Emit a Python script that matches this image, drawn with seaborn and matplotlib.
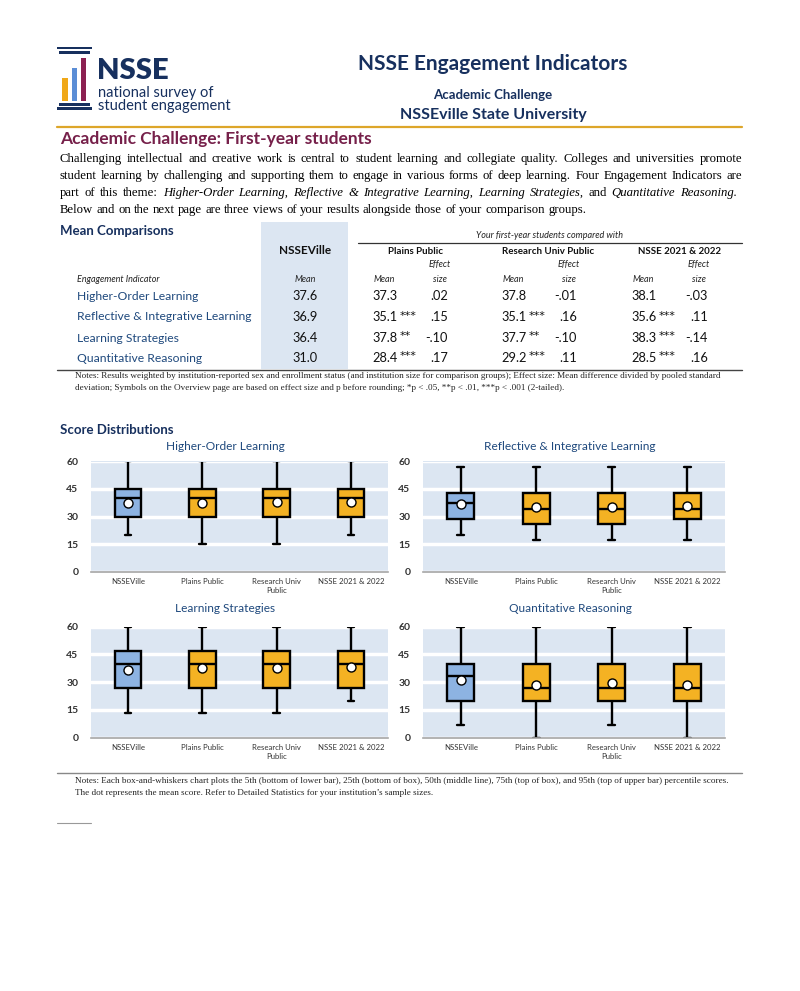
import numpy as np
import pandas as pd
import seaborn as sns
import matplotlib.pyplot as plt
from matplotlib.patches import Rectangle

# ---- data ----
groups = ["NSSEVille", "Plains Public", "Research Univ Public", "NSSE 2021 & 2022"]
group_ticks = ["NSSEVille", "Plains Public", "Research Univ\nPublic", "NSSE 2021 & 2022"]
indicators = ["Higher-Order Learning", "Reflective & Integrative Learning",
              "Learning Strategies", "Quantitative Reasoning"]

nsseville_mean = [37.6, 36.9, 36.4, 31.0]
plains_mean = [37.3, 35.1, 37.8, 28.4]
plains_sig = ["", "***", "**", "***"]
plains_es = [".02", ".15", "-.10", ".17"]
research_mean = [37.8, 35.1, 37.7, 29.2]
research_sig = ["", "***", "**", "***"]
research_es = ["-.01", ".16", "-.10", ".11"]
nsse_mean = [38.1, 35.6, 38.3, 28.5]
nsse_sig = ["", "***", "***", "***"]
nsse_es = ["-.03", ".11", "-.14", ".16"]

# 5th, 25th, 50th, 75th, 95th percentiles for each group
hol_pct = [[20, 30, 40, 45, 60], [15, 30, 40, 45, 60],
           [15, 30, 40, 45, 60], [20, 30, 40, 45, 60]]
ril_pct = [[20, 28.6, 37.1, 42.9, 57.1], [17.1, 25.7, 34.3, 42.9, 57.1],
           [17.1, 25.7, 34.3, 42.9, 57.1], [17.1, 28.6, 34.3, 42.9, 57.1]]
ls_pct = [[13.3, 26.7, 40, 46.7, 60], [13.3, 26.7, 40, 46.7, 60],
          [13.3, 26.7, 40, 46.7, 60], [20, 26.7, 40, 46.7, 60]]
qr_pct = [[6.7, 20, 33.3, 40, 60], [0, 20, 26.7, 40, 60],
          [6.7, 20, 26.7, 40, 60], [0, 20, 26.7, 40, 60]]

# ---- style ----
sns.set_theme(style="white")
SANS = ["Lato", "DejaVu Sans"]
SERIF = ["Liberation Serif", "DejaVu Serif"]
plt.rcParams["font.family"] = SANS

NAVY = "#17305E"
NAVY2 = "#1F497D"
MAROON = "#76204A"
GOLD_LINE = "#DDA62A"
BG = "#DCE6F2"
box_colors = ["#8DB3E2", "#F4B223", "#F4B223", "#F4B223"]

fig = plt.figure(figsize=(8, 9.91), dpi=100)
ax0 = fig.add_axes([0, 0, 1, 1], zorder=0)
ax0.set_xlim(0, 800)
ax0.set_ylim(991, 0)
ax0.axis("off")
renderer = fig.canvas.get_renderer()


def txt(x, y, s, size, color="black", weight="normal", style="normal",
        family=SANS, ha="left", va="center"):
    return ax0.text(x, y, s, fontsize=size, color=color, fontweight=weight,
                    fontstyle=style, family=family, ha=ha, va=va)


def para_line(y, segments, x0, x1, size, justify=True):
    words = []
    for seg, st in segments:
        for w in seg.split():
            words.append((w, st))
    arts = [txt(0, y, w, size, style=st, family=SERIF) for w, st in words]
    widths = [a.get_window_extent(renderer).width for a in arts]
    if justify and len(arts) > 1:
        gap = (x1 - x0 - sum(widths)) / (len(arts) - 1)
    else:
        gap = 0.25 * size * 100 / 72
    x = x0
    for a, w in zip(arts, widths):
        a.set_x(x)
        x += w + gap


# ---- logo ----
for (x, y, w, h, c) in [(57, 46.5, 35, 2.8, NAVY), (59, 51, 31, 2.6, NAVY),
                        (62.3, 78, 5.2, 23, "#F0A818"), (71.8, 68, 5.2, 33, "#5B8ED6"),
                        (81.2, 58, 5.2, 43, "#8C2152"),
                        (59, 103.3, 31, 2.6, NAVY), (57, 107.3, 35, 2.8, NAVY)]:
    ax0.add_patch(Rectangle((x, y), w, h, color=c, lw=0))
txt(97, 71, "NSSE", 21, NAVY, weight="heavy")
txt(98, 93, "national survey of", 10.5, NAVY)
txt(98, 106, "student engagement", 10.5, NAVY)

# ---- header ----
txt(493, 64, "NSSE Engagement Indicators", 15, NAVY, weight="bold", ha="center")
txt(493, 95, "Academic Challenge", 9.5, NAVY, weight="bold", ha="center")
txt(493, 115, "NSSEville State University", 11.5, NAVY, weight="bold", ha="center")
ax0.plot([57, 742], [127, 127], color=GOLD_LINE, lw=1.6)

txt(60, 139, "Academic Challenge: First-year students", 12.5, MAROON, weight="bold")
fs = 9.2
para_line(159, [("Challenging intellectual and creative work is central to student learning "
                 "and collegiate quality. Colleges and universities promote", "normal")], 60, 742, fs)
para_line(176, [("student learning by challenging and supporting them to engage in various "
                 "forms of deep learning. Four Engagement Indicators are", "normal")], 60, 742, fs)
para_line(193, [("part of this theme:", "normal"),
                ("Higher-Order Learning, Reflective & Integrative Learning, Learning Strategies,", "italic"),
                ("and", "normal"), ("Quantitative Reasoning.", "italic")], 60, 737, fs)
para_line(210, [("Below and on the next page are three views of your results alongside "
                 "those of your comparison groups.", "normal")], 60, 742, fs, justify=False)

# ---- mean comparisons table ----
txt(60, 231, "Mean Comparisons", 9.5, NAVY, weight="bold")
ax0.add_patch(Rectangle((261, 222), 87, 147, color=BG, lw=0, zorder=0))
txt(550, 235, "Your first-year students compared with", 6.5, "#222222", style="italic", ha="center")
ax0.plot([358, 742], [242.5, 242.5], color="#333333", lw=0.9)
txt(305, 251, "NSSEVille", 8.5, "#111111", weight="bold", ha="center")
mean_x = [372, 501, 631]
es_x = [448, 577, 708]
head_x = [415, 548, 680]
eff_x = [440, 569, 699]
for hx, ex, mx, name in zip(head_x, eff_x, mean_x, groups[1:]):
    txt(hx, 251, name, 7, "#111111", weight="bold", ha="center")
    txt(ex, 265, "Effect", 6.5, "#222222", style="italic", ha="center")
    txt(ex, 279, "size", 6.5, "#222222", style="italic", ha="center")
    txt(mx + 12, 279, "Mean", 6.5, "#222222", style="italic", ha="center")
txt(77, 279, "Engagement Indicator", 6.5, "#222222", style="italic")
txt(305, 279, "Mean", 6.5, "#222222", style="italic", ha="center")

row_y = [296, 317, 338, 358]
comp = [(plains_mean, plains_sig, plains_es), (research_mean, research_sig, research_es),
        (nsse_mean, nsse_sig, nsse_es)]
for i, (ind, y) in enumerate(zip(indicators, row_y)):
    txt(77, y, ind, 8.7, NAVY2)
    txt(305, y, f"{nsseville_mean[i]:.1f}", 9.2, "#111111", ha="center")
    for (m, s, e), mx, ex in zip(comp, mean_x, es_x):
        txt(mx, y, f"{m[i]:.1f}", 9.2, "#111111")
        if s[i]:
            txt(mx + 27.5, y - 1.5, s[i], 8, "#111111", family=["DejaVu Sans"])
        txt(ex, y, e[i], 9.2, "#111111", ha="right")
ax0.plot([57, 742], [369.5, 369.5], color="#444444", lw=1.0)
txt(75, 375.5, "Notes: Results weighted by institution-reported sex and enrollment status (and institution "
    "size for comparison groups); Effect size: Mean difference divided by pooled standard",
    6.6, "#222222", family=SERIF)
txt(75, 387.5, "deviation; Symbols on the Overview page are based on effect size and p before rounding; "
    "*p < .05, **p < .01, ***p < .001 (2-tailed).", 6.6, "#222222", family=SERIF)

# ---- score distributions ----
txt(60, 430, "Score Distributions", 9.5, NAVY, weight="bold")

rows = []
for ind, pct in zip(indicators, [hol_pct, ril_pct, ls_pct, qr_pct]):
    for g, vals in zip(groups, pct):
        for v in vals:
            rows.append((ind, g, v))
df = pd.DataFrame(rows, columns=["indicator", "group", "value"])
means = [[a, b, c, d] for a, b, c, d in zip(nsseville_mean, plains_mean, research_mean, nsse_mean)]

# axes boxes in pixels: (left, top, right, bottom)
panels = [(91, 461.5, 388, 571.5), (423, 461.5, 725, 571.5),
          (91, 626.5, 388, 737.5), (423, 626.5, 725, 737.5)]
title_pos = [(225, 447), (570, 447), (225, 609), (570, 609)]
for k, ind in enumerate(indicators):
    l, t, r, b = panels[k]
    ax = fig.add_axes([l / 800, 1 - b / 991, (r - l) / 800, (b - t) / 991], zorder=2)
    ax.set_facecolor(BG)
    sub = df[df["indicator"] == ind]
    sns.boxplot(data=sub, x="group", y="value", hue="group", order=groups, hue_order=groups,
                palette=box_colors, whis=(0, 100), width=0.36, linewidth=1.7,
                linecolor="black", legend=False, saturation=1, ax=ax,
                medianprops={"color": "black", "linewidth": 1.7})
    # narrow whisker caps
    for ln in ax.lines:
        xd = np.asarray(ln.get_xdata(), dtype=float)
        yd = np.asarray(ln.get_ydata(), dtype=float)
        if len(xd) == 2 and yd[0] == yd[1] and abs(xd[1] - xd[0]) < 0.3:
            c = xd.mean()
            ln.set_xdata([c - 0.045, c + 0.045])
    sns.stripplot(x=groups, y=means[k], order=groups, jitter=False, color="white",
                  edgecolor="black", linewidth=1.0, size=6.5, zorder=5, ax=ax)
    ax.set_ylim(0, 60)
    ax.set_xlim(-0.5, 3.5)
    ax.set_yticks([0, 15, 30, 45, 60])
    ax.yaxis.grid(True, color="white", lw=2.5)
    ax.set_axisbelow(True)
    ax.set_xticks(range(4))
    ax.set_xticklabels(group_ticks, fontsize=5.6, color="#333333")
    ax.tick_params(axis="y", labelsize=7.5, labelcolor="#333333", length=0, pad=9)
    ax.tick_params(axis="x", length=0, pad=5)
    for lab in ax.get_yticklabels():
        lab.set_fontweight("bold")
    for s in ["top", "right", "left"]:
        ax.spines[s].set_visible(False)
    ax.spines["bottom"].set_color("#A6A6A6")
    ax.spines["bottom"].set_linewidth(1.2)
    ax.set_xlabel("")
    ax.set_ylabel("")
    tx, ty = title_pos[k]
    txt(tx, ty, ind, 8.6, NAVY2, ha="center")

ax0.plot([57, 742], [773, 773], color="#888888", lw=1.0)
txt(75, 781, "Notes: Each box-and-whiskers chart plots the 5th (bottom of lower bar), 25th (bottom of box), "
    "50th (middle line), 75th (top of box), and 95th (top of upper bar) percentile scores.",
    6.6, "#222222", family=SERIF)
txt(75, 793, "The dot represents the mean score. Refer to Detailed Statistics for your institution\u2019s "
    "sample sizes.", 6.6, "#222222", family=SERIF)
ax0.plot([57, 91], [823, 823], color="#999999", lw=0.8)

fig.savefig("out.png", dpi=100)
